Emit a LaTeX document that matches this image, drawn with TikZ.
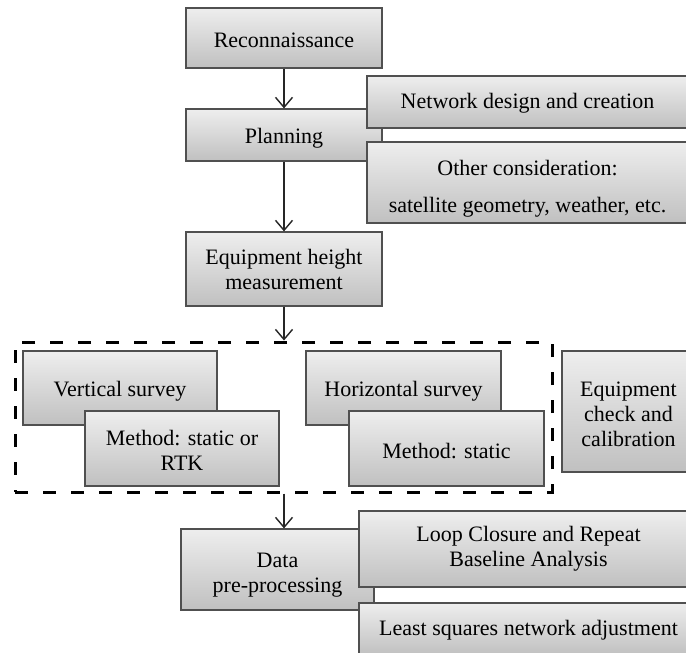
\documentclass[tikz,border=0pt]{standalone}
\usepackage{fontspec}
\setmainfont{Liberation Serif}
\usetikzlibrary{arrows.meta,shadows}

% a strut that pushes a first line of text down a little
\newcommand{\lowerby}[1]{\rule{0pt}{\dimexpr 15pt+2\dimexpr #1\relax\relax}}

\tikzset{
  box/.style={rectangle, draw={rgb,255:red,80;green,80;blue,80}, line width=1.2pt,
    top color={rgb,255:red,238;green,238;blue,238},
    bottom color={rgb,255:red,192;green,192;blue,192},
    drop shadow={shadow xshift=1.2pt, shadow yshift=-1.2pt, opacity=0.3},
    align=center, inner sep=0pt,
    font=\fontsize{22}{25}\selectfont},
  group/.style={rectangle, draw=black, line width=3pt, dash pattern=on 13pt off 15pt,
    inner sep=0pt},
  flow/.style={draw=black!85, line width=1.4pt,
    -{Straight Barb[length=10pt,width=17pt,line width=1.4pt]}},
}

\begin{document}
\begin{tikzpicture}[x=1pt,y=-1pt]
  \useasboundingbox (0,0) rectangle (686,653);
  \clip (0,0) rectangle (686,653);
  \fill[white] (0,0) rectangle (686,653);

  % dashed group around the two survey branches
  \node[group, minimum width=537pt, minimum height=150pt] (grp) at (283.5,417) {};

  % main column
  \node[box, minimum width=196pt, minimum height=60pt] (rec) at (284,38) {\lowerby{2pt}Reconnaissance};
  \node[box, minimum width=196pt, minimum height=52pt] (plan) at (284,135) {\lowerby{3pt}Planning};
  \node[box, minimum width=196pt, minimum height=74pt] (eqh) at (284,269) {\lowerby{1pt}Equipment height\\measurement};
  \node[box, minimum width=193pt, minimum height=81pt] (data) at (277.5,569.5) {\lowerby{5pt}Data\\pre-processing};

  % planning details
  \node[box, minimum width=321pt, minimum height=52pt] (net) at (527.5,102) {\lowerby{1pt}Network design and creation};
  \node[box, minimum width=321pt, minimum height=81pt] (other) at (527.5,182.5) {\lowerby{6pt}Other consideration:\\[12pt]satellite geometry, weather, etc.};

  % survey branches
  \node[box, minimum width=194pt, minimum height=74pt] (vert) at (120,388) {\lowerby{3pt}Vertical survey};
  \node[box, minimum width=194pt, minimum height=75pt] (mvert) at (182,448.5) {\lowerby{2pt}Method: static or\\RTK};
  \node[box, minimum width=195pt, minimum height=74pt] (horiz) at (403.5,388) {\lowerby{3pt}Horizontal survey};
  \node[box, minimum width=195pt, minimum height=75pt] (mhoriz) at (446.5,448.5) {\lowerby{3pt}Method: static};
  \node[box, minimum width=133pt, minimum height=121pt] (echk) at (628.5,411.5) {\lowerby{3pt}Equipment\\check and\\calibration};

  % processing details
  \node[box, minimum width=339pt, minimum height=76pt] (loop) at (528.5,549) {Loop Closure and Repeat\\Baseline Analysis};
  \node[box, minimum width=339pt, minimum height=52pt] (lsq) at (528.5,629) {\lowerby{1pt}Least squares network adjustment};

  % flow arrows
  \draw[flow] (rec) -- (plan);
  \draw[flow] (plan) -- (eqh);
  \draw[flow] (eqh.south) -- (eqh.south |- grp.north);
  \draw[flow] (grp.south -| eqh.south) -- (data.north -| eqh.south);
\end{tikzpicture}
\end{document}
